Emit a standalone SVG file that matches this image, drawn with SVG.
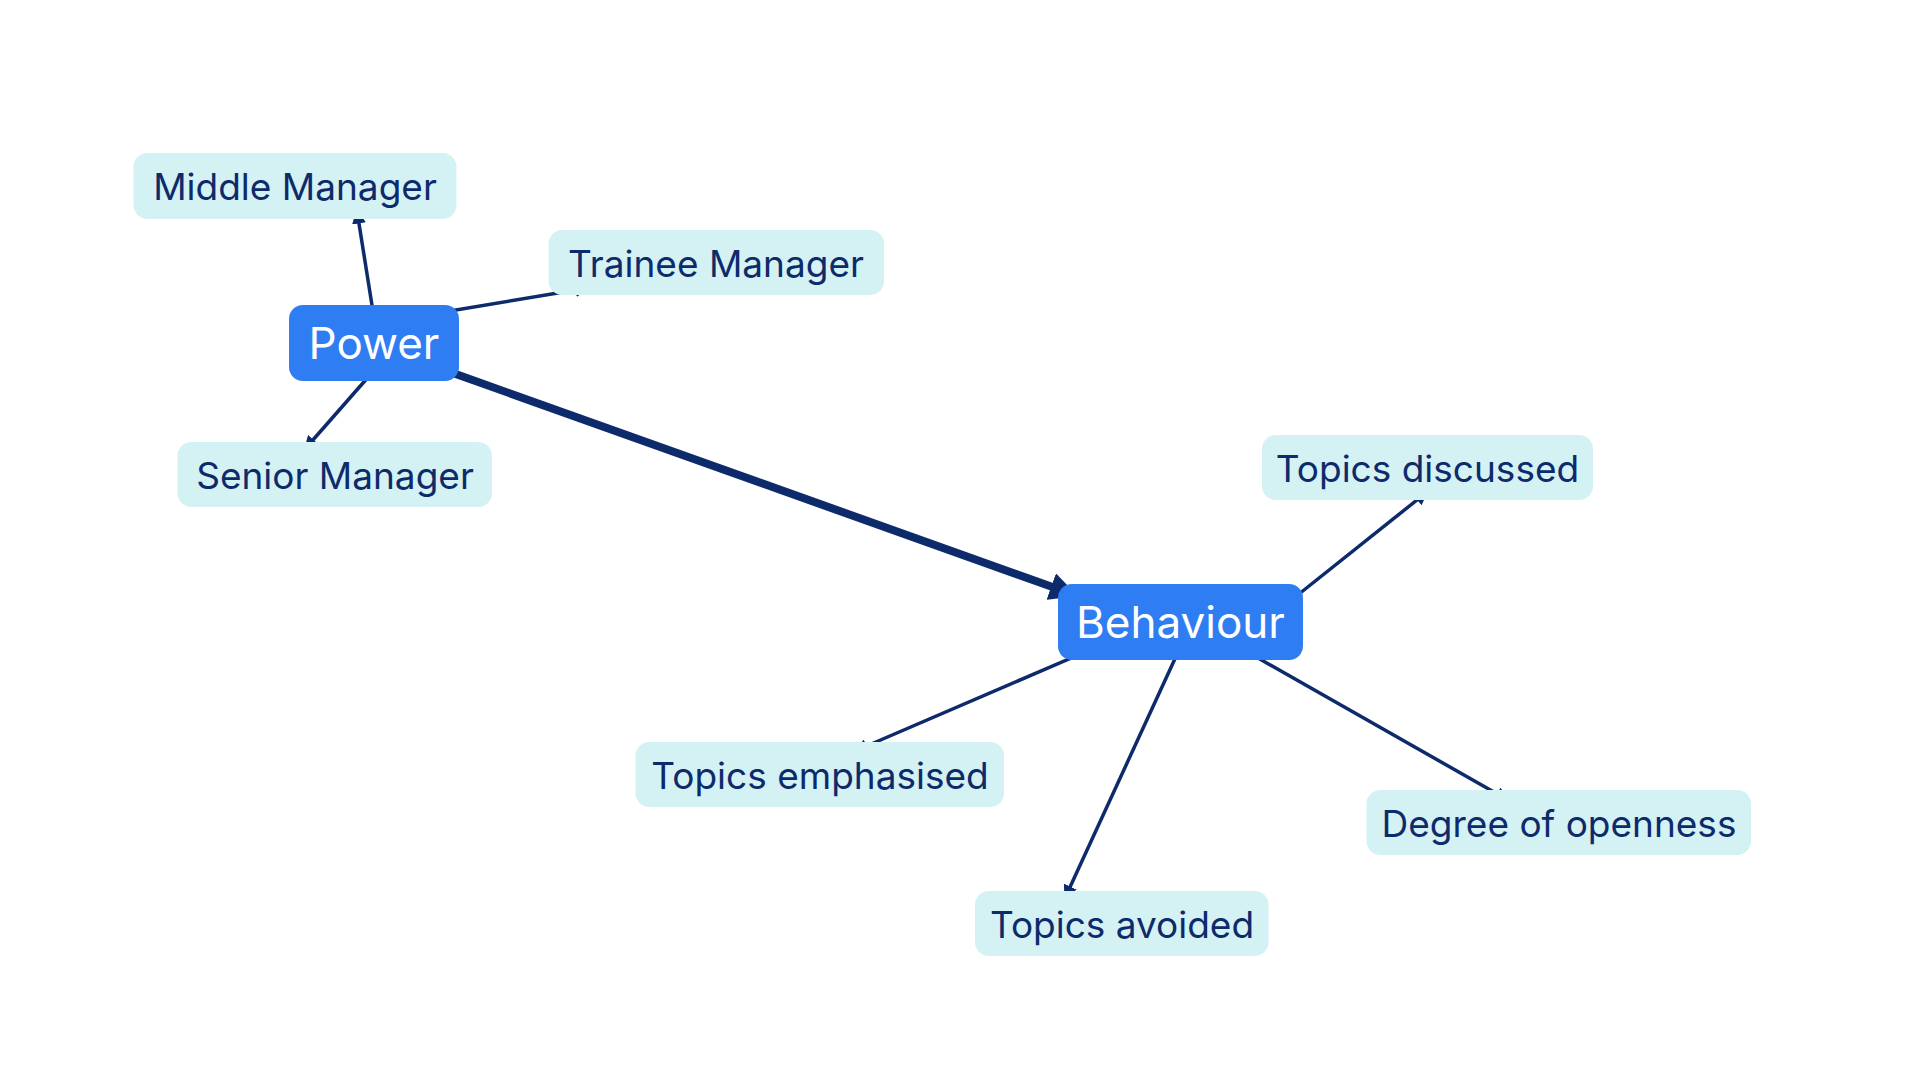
<svg xmlns="http://www.w3.org/2000/svg" width="1920" height="1080" viewBox="0 0 1920 1080">
<style>
.l rect{fill:#d4f1f4}
.l text{font-family:Inter,"Liberation Sans",sans-serif;font-size:37px;fill:#0d2a6b;text-anchor:middle;dominant-baseline:central}
.m rect{fill:#2f7df2}
.m text{font-family:Inter,"Liberation Sans",sans-serif;font-size:44px;fill:#fff;text-anchor:middle;dominant-baseline:central}
.e{stroke:#0d2a6b;stroke-width:3.5;fill:none;marker-end:url(#a)}
</style>
<defs>
<marker id="a" viewBox="0 0 10 10" refX="9" refY="5" markerWidth="4" markerHeight="4" orient="auto" markerUnits="strokeWidth"><path d="M0,0L10,5L0,10z" fill="#0d2a6b"/></marker>
<marker id="b" viewBox="0 0 10 10" refX="9" refY="5" markerWidth="3.5" markerHeight="3.5" orient="auto" markerUnits="strokeWidth"><path d="M0,0L10,5L0,10z" fill="#0d2a6b"/></marker>
</defs>
<rect width="1920" height="1080" fill="#fff"/>
<g id="connectors">
<line class="e" x1="373.5" y1="314.7" x2="357" y2="211"/>
<line class="e" x1="427.4" y1="314.7" x2="588" y2="288"/>
<line class="e" x1="373.5" y1="371" x2="305" y2="449"/>
<line x1="454.3" y1="373.5" x2="1075" y2="595" stroke="#0d2a6b" stroke-width="8" marker-end="url(#b)"/>
<line class="e" x1="1299" y1="594" x2="1427" y2="492"/>
<line class="e" x1="1089.8" y1="650" x2="855" y2="751"/>
<line class="e" x1="1179" y1="650" x2="1065" y2="898"/>
<line class="e" x1="1244" y1="650" x2="1508" y2="800"/>
</g>
<g id="middle" class="l"><rect x="133.5" y="153" width="323" height="66" rx="14"/><text x="295" y="186">Middle Manager</text></g>
<g id="trainee" class="l"><rect x="548.6" y="230" width="335.4" height="65" rx="14"/><text x="716" y="263">Trainee Manager</text></g>
<g id="senior" class="l"><rect x="177.5" y="442" width="314.5" height="65" rx="14"/><text x="335" y="475">Senior Manager</text></g>
<g id="discussed" class="l"><rect x="1262" y="435" width="331" height="65" rx="14"/><text x="1427.5" y="468">Topics discussed</text></g>
<g id="emphasised" class="l"><rect x="635.5" y="742" width="368.5" height="65" rx="14"/><text x="820" y="775">Topics emphasised</text></g>
<g id="openness" class="l"><rect x="1366.5" y="790" width="384.5" height="65" rx="14"/><text x="1559" y="823">Degree of openness</text></g>
<g id="avoided" class="l"><rect x="975" y="891" width="293.6" height="65" rx="14"/><text x="1122" y="924">Topics avoided</text></g>
<g id="power" class="m"><rect x="289" y="305" width="170" height="76" rx="14"/><text x="374" y="343">Power</text></g>
<g id="behaviour" class="m"><rect x="1058" y="584" width="245" height="76" rx="14"/><text x="1180.5" y="622">Behaviour</text></g>
</svg>
